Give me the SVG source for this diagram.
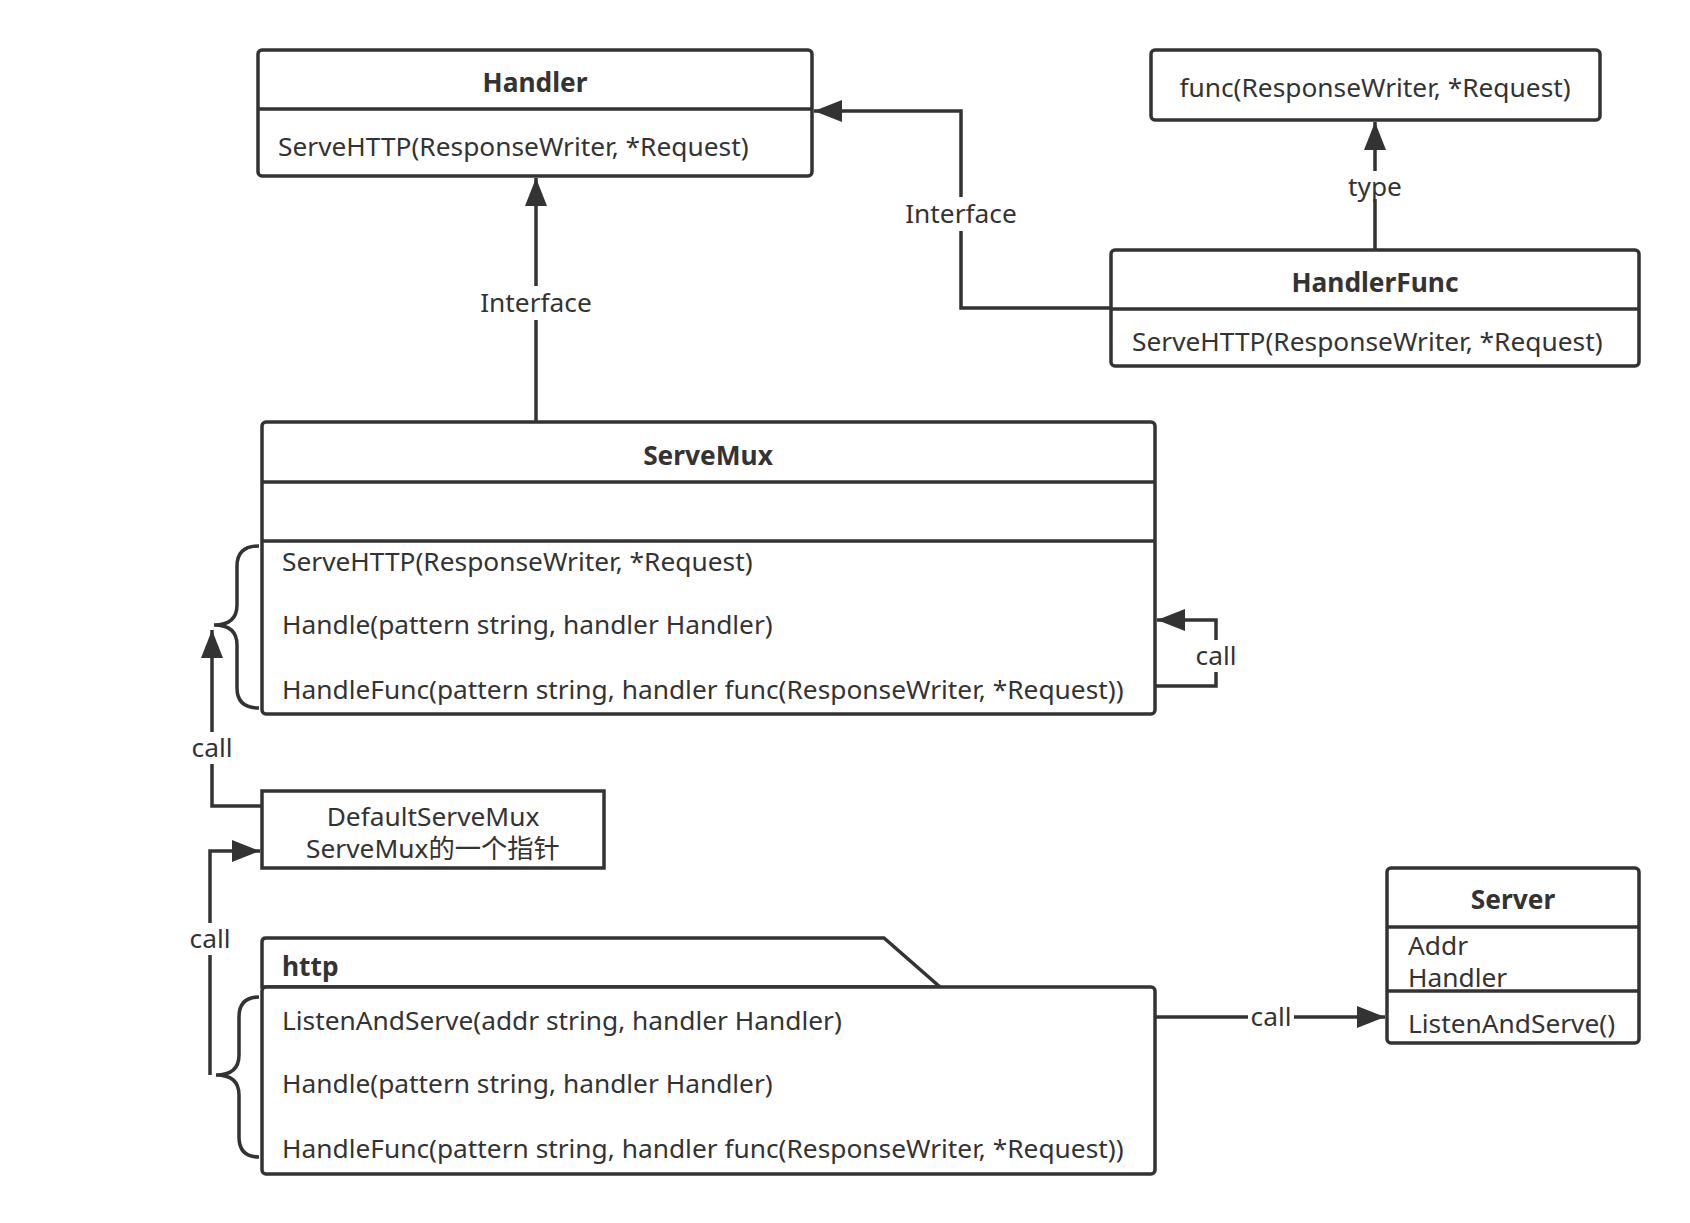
<svg xmlns="http://www.w3.org/2000/svg" width="1690" height="1223" viewBox="0 0 1690 1223">
<style>
.box{fill:#fff;stroke:#333;stroke-width:3.5}
.ln{fill:none;stroke:#333;stroke-width:3.5}
.t{font-family:"Noto Sans","Noto Sans CJK SC",sans-serif;font-size:26.3px;fill:#333}
.b{font-weight:bold}
.c{text-anchor:middle}
.lbl{fill:#fff}
</style>
<defs>
<marker id="ah" viewBox="0 0 28 22" refX="28" refY="11" markerWidth="28" markerHeight="22" markerUnits="userSpaceOnUse" orient="auto">
<path d="M0,0 L28,11 L0,22 Z" fill="#333"/>
</marker>
</defs>
<rect width="1690" height="1223" fill="#fff"/>
<g id="connectors">
<path class="ln" d="M536,422 V178" marker-end="url(#ah)"/>
<rect class="lbl" x="476" y="286" width="120" height="34"/>
<text class="t c" x="536" y="312">Interface</text>
<path class="ln" d="M1111,308 H961 V111 H814" marker-end="url(#ah)"/>
<rect class="lbl" x="901" y="197" width="120" height="34"/>
<text class="t c" x="961" y="223">Interface</text>
<path class="ln" d="M1375,250 V122" marker-end="url(#ah)"/>
<rect class="lbl" x="1343" y="171" width="64" height="28"/>
<text class="t c" x="1375" y="196">type</text>
<path class="ln" d="M1155,686 H1216 V620 H1157" marker-end="url(#ah)"/>
<rect class="lbl" x="1193" y="640" width="46" height="32"/>
<text class="t c" x="1216" y="665">call</text>
<path class="ln" d="M262,806 H212 V630" marker-end="url(#ah)"/>
<rect class="lbl" x="188" y="732" width="46" height="32"/>
<text class="t c" x="212" y="757">call</text>
<path class="ln" d="M210,1075 V851 H260" marker-end="url(#ah)"/>
<rect class="lbl" x="186" y="923" width="46" height="32"/>
<text class="t c" x="210" y="948">call</text>
<path class="ln" d="M1155,1017 H1385" marker-end="url(#ah)"/>
<rect class="lbl" x="1248" y="1001" width="46" height="32"/>
<text class="t c" x="1271" y="1026">call</text>
</g>
<g id="handler">
<rect class="box" x="258" y="50" width="554" height="126" rx="4"/>
<path class="ln" d="M258,109 H812"/>
<text class="t b c" x="535" y="92">Handler</text>
<text class="t" x="278" y="156">ServeHTTP(ResponseWriter, *Request)</text>
</g>
<g id="func">
<rect class="box" x="1151" y="50" width="449" height="70" rx="4"/>
<text class="t c" x="1375" y="97">func(ResponseWriter, *Request)</text>
</g>
<g id="handlerfunc">
<rect class="box" x="1111" y="250" width="528" height="116" rx="4"/>
<path class="ln" d="M1111,309 H1639"/>
<text class="t b c" x="1375" y="292">HandlerFunc</text>
<text class="t" x="1132" y="351">ServeHTTP(ResponseWriter, *Request)</text>
</g>
<g id="servemux">
<rect class="box" x="262" y="422" width="893" height="292" rx="4"/>
<path class="ln" d="M262,482 H1155 M262,541 H1155"/>
<text class="t b c" x="708" y="465">ServeMux</text>
<text class="t" x="282" y="571">ServeHTTP(ResponseWriter, *Request)</text>
<text class="t" x="282" y="634">Handle(pattern string, handler Handler)</text>
<text class="t" x="282" y="699">HandleFunc(pattern string, handler func(ResponseWriter, *Request))</text>
<path class="ln" d="M259,546 Q237,546 237,566 L237,605 Q237,625 214,625 Q237,625 237,645 L237,688 Q237,708 259,708"/>
</g>
<g id="defaultservemux">
<rect class="box" x="262" y="791" width="342" height="77"/>
<text class="t c" x="433" y="826">DefaultServeMux</text>
<text class="t c" x="433" y="858">ServeMux的一个指针</text>
</g>
<g id="http">
<path class="box" d="M262,987 V942 Q262,938 266,938 H884 L940,987 Z"/>
<rect class="box" x="262" y="987" width="893" height="187" rx="4"/>
<text class="t b" x="282" y="976">http</text>
<text class="t" x="282" y="1030">ListenAndServe(addr string, handler Handler)</text>
<text class="t" x="282" y="1093">Handle(pattern string, handler Handler)</text>
<text class="t" x="282" y="1158">HandleFunc(pattern string, handler func(ResponseWriter, *Request))</text>
<path class="ln" d="M259,997 Q239,997 239,1017 L239,1055 Q239,1075 216,1075 Q239,1075 239,1095 L239,1137 Q239,1157 259,1157"/>
</g>
<g id="server">
<rect class="box" x="1387" y="868" width="252" height="175" rx="4"/>
<path class="ln" d="M1387,927 H1639 M1387,991 H1639"/>
<text class="t b c" x="1513" y="909">Server</text>
<text class="t" x="1408" y="955">Addr</text>
<text class="t" x="1408" y="987">Handler</text>
<text class="t" x="1408" y="1033">ListenAndServe()</text>
</g>
</svg>
